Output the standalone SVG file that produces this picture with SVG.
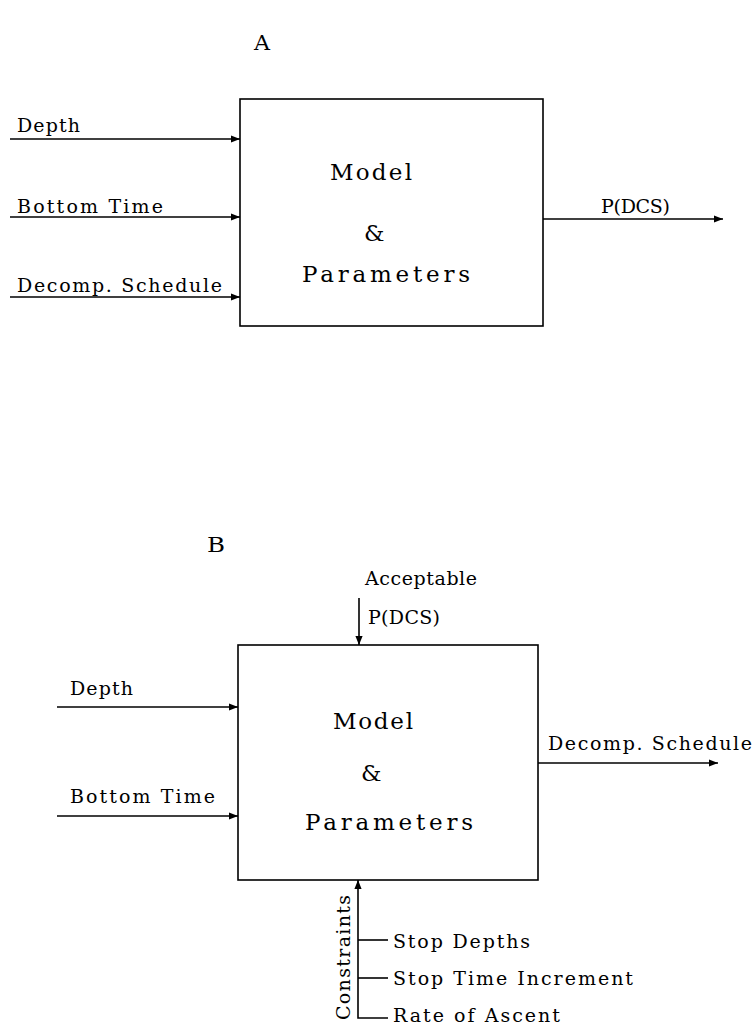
<svg xmlns="http://www.w3.org/2000/svg" width="752" height="1027" viewBox="0 0 752 1027">
<defs>
<marker id="ah" viewBox="0 0 10 10" refX="10" refY="5" markerWidth="9" markerHeight="9" markerUnits="userSpaceOnUse" orient="auto"><path d="M0,1 L10,5 L0,9 z" fill="#000"/></marker>
<style>
text{font-family:"DejaVu Serif","Liberation Serif",serif;fill:#000}
.s{font-size:19px}
.m{font-size:23px}
.l{font-size:20px}
.box{fill:#fff;stroke:#000;stroke-width:1.6}
.c{stroke:#000;stroke-width:1.6;fill:none}
.a{marker-end:url(#ah)}
</style>
</defs>
<text class="l" x="254" y="50" textLength="16" lengthAdjust="spacingAndGlyphs">A</text>
<text class="l" x="207" y="552" textLength="18" lengthAdjust="spacingAndGlyphs">B</text>
<g id="nodeA">
<rect class="box" x="240" y="99" width="303" height="227"/>
<text class="m" x="330" y="180" textLength="82" lengthAdjust="spacing">Model</text>
<text class="m" x="364" y="241">&amp;</text>
<text class="m" x="302" y="282" textLength="168" lengthAdjust="spacing">Parameters</text>
</g>
<g id="nodeB">
<rect class="box" x="238" y="645" width="300" height="235"/>
<text class="m" x="333" y="729" textLength="80" lengthAdjust="spacing">Model</text>
<text class="m" x="361" y="781">&amp;</text>
<text class="m" x="305" y="830" textLength="168" lengthAdjust="spacing">Parameters</text>
</g>
<g id="connectors">
<line class="c a" x1="10" y1="139" x2="240" y2="139"/>
<line class="c a" x1="10" y1="217" x2="240" y2="217"/>
<line class="c a" x1="10" y1="297" x2="240" y2="297"/>
<line class="c a" x1="543" y1="219" x2="723" y2="219"/>
<line class="c a" x1="57" y1="707" x2="238" y2="707"/>
<line class="c a" x1="57" y1="816" x2="238" y2="816"/>
<line class="c a" x1="538" y1="763" x2="718" y2="763"/>
<line class="c a" x1="359" y1="598" x2="359" y2="645"/>
<path class="c a" d="M388,1018 L358,1018 L358,880"/>
<line class="c" x1="358" y1="940" x2="388" y2="940"/>
<line class="c" x1="358" y1="978" x2="388" y2="978"/>
</g>
<g id="labels">
<text class="s" x="17" y="132" textLength="63" lengthAdjust="spacing">Depth</text>
<text class="s" x="17" y="213" textLength="146" lengthAdjust="spacing">Bottom Time</text>
<text class="s" x="17" y="292" textLength="205" lengthAdjust="spacing">Decomp. Schedule</text>
<text class="s" x="601" y="213" textLength="69" lengthAdjust="spacing">P(DCS)</text>
<text class="s" x="70" y="695" textLength="63" lengthAdjust="spacing">Depth</text>
<text class="s" x="70" y="803" textLength="145" lengthAdjust="spacing">Bottom Time</text>
<text class="s" x="548" y="750" textLength="204" lengthAdjust="spacing">Decomp. Schedule</text>
<text class="s" x="365" y="585" textLength="112" lengthAdjust="spacing">Acceptable</text>
<text class="s" x="368" y="624" textLength="72" lengthAdjust="spacing">P(DCS)</text>
<text class="s" x="393" y="948" textLength="137" lengthAdjust="spacing">Stop Depths</text>
<text class="s" x="393" y="985" textLength="240" lengthAdjust="spacing">Stop Time Increment</text>
<text class="s" x="393" y="1022" textLength="167" lengthAdjust="spacing">Rate of Ascent</text>
<text class="s" transform="translate(350,1020) rotate(-90)" textLength="125" lengthAdjust="spacing">Constraints</text>
</g>
</svg>
